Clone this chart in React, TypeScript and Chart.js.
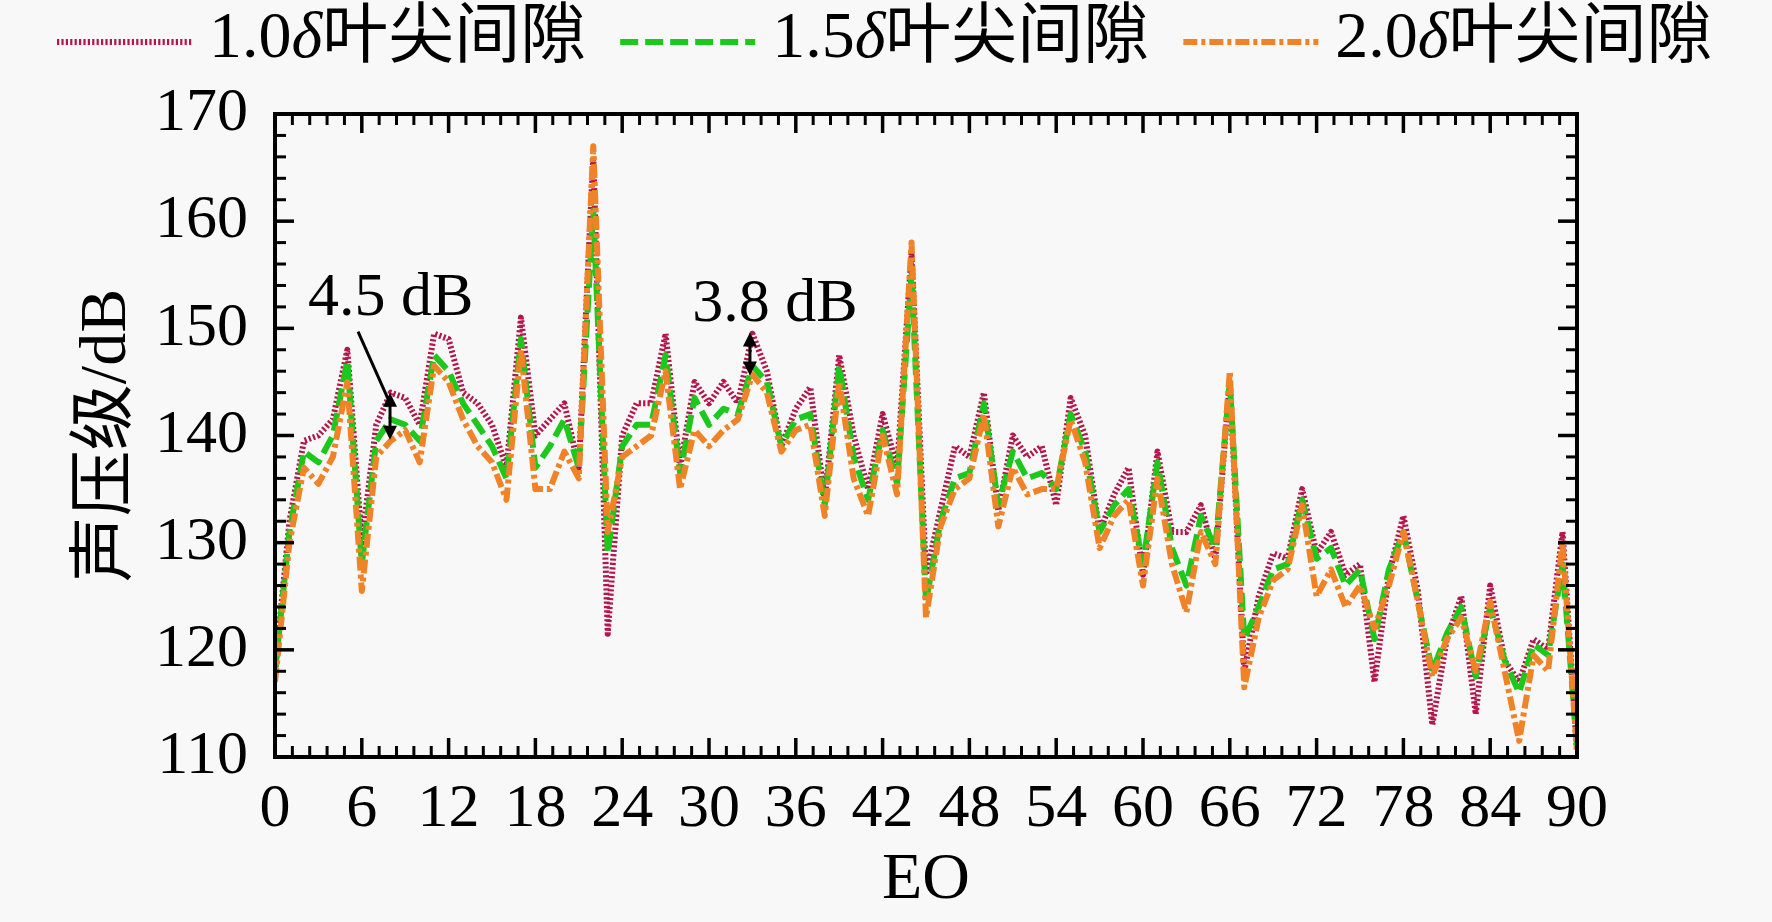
import { useEffect, useRef } from "react";
import { Chart, registerables } from "chart.js";

Chart.register(...registerables);

// ---------- data ----------
const EO = [
  0, 1, 2, 3, 4, 5, 6, 7, 8, 9, 10, 11, 12, 13, 14, 15, 16, 17, 18, 19, 20,
  21, 22, 23, 24, 25, 26, 27, 28, 29, 30, 31, 32, 33, 34, 35, 36, 37, 38, 39, 40,
  41, 42, 43, 44, 45, 46, 47, 48, 49, 50, 51, 52, 53, 54, 55, 56, 57, 58, 59, 60,
  61, 62, 63, 64, 65, 66, 67, 68, 69, 70, 71, 72, 73, 74, 75, 76, 77, 78, 79, 80,
  81, 82, 83, 84, 85, 86, 87, 88, 89, 90,
];

const SPL_10 = [
  118, 132, 139.5, 140, 141.5, 148, 130, 141, 144, 143.5, 141,
  149.5, 149, 144, 143, 141, 137, 151, 140, 141.5, 143, 137,
  166, 121.5, 140, 143, 143, 149.5, 137, 145, 143, 145, 143,
  149.5, 146, 139, 142.5, 144.5, 134, 147.5, 140, 135, 142, 137,
  157, 127, 133, 139, 138, 144, 133, 140, 138, 139, 133.5,
  143.5, 140, 131, 134.5, 137, 127, 138.5, 131, 131, 133.5, 128.5,
  145, 118, 125, 129, 128.5, 135, 129, 131, 127, 128, 117,
  127, 132.5, 125.5, 113, 121, 125, 114, 126, 119, 117, 121,
  120, 131, 110.5,
];

const SPL_15 = [
  118, 131, 138.5, 137.5, 140, 147, 128, 139.5, 141.5, 141, 139.5,
  147.5, 146, 143, 141, 139, 136, 149, 137, 139, 141.5, 137,
  161, 129, 139, 141, 141, 147.5, 136.5, 143.5, 141, 142.5, 142,
  146.5, 145, 139, 141.5, 142, 133.5, 146.5, 138, 134, 140.5, 135.5,
  155, 124.5, 132, 136, 136.5, 143, 133.5, 138.5, 136, 136.5, 135,
  142, 138.5, 131, 133.5, 135, 128, 137.5, 129.5, 126, 132.5, 129.5,
  145, 121, 124, 127.5, 128, 134, 128.5, 129.5, 126, 127.5, 121,
  127.5, 131, 124.5, 118, 121.5, 124, 117.5, 124, 119, 116, 120.5,
  119.5, 128, 111,
];

const SPL_20 = [
  117, 130, 137, 135.5, 138, 145, 125.5, 138, 139.5, 140.5, 137.5,
  146.5, 145, 141.5, 139, 137.5, 134, 148, 135, 135, 138.5, 136,
  167, 131, 138, 139, 140, 146, 135, 140.5, 139, 140.5, 141.5,
  145.7, 144, 138.5, 140.5, 141, 132.5, 145, 136, 132.5, 140, 134.5,
  158, 123, 131.5, 135, 136, 142, 131.5, 137, 134.5, 135, 135,
  141.5, 137.5, 129.5, 132.5, 134, 126, 136, 128, 123.5, 131, 128,
  146, 116.5, 123, 126.5, 127.5, 133.5, 125, 127.5, 124, 126, 122,
  126, 131, 124.5, 117.5, 121, 123, 118, 124.5, 118, 111.5, 119.5,
  118, 130, 110.5,
];

const SERIES_PREFIX = ["1.0", "1.5", "2.0"];
const SERIES_SYMBOL = "δ";
const SERIES_SUFFIX = "叶尖间隙";
const X_TITLE = "EO";
const Y_TITLE = "声压级/dB";

const X_MIN = 0;
const X_MAX = 90;
const X_STEP = 6;
const Y_MIN = 110;
const Y_MAX = 170;
const Y_STEP = 10;

// annotations: [EO, SPL]
const GAP_LABELS = ["4.5 dB", "3.8 dB"];
const GAP_LABEL_AT = [
  [8.0, 152.8],
  [34.55, 152.2],
];
// [EO, top SPL, bottom SPL]
const GAP_ARROWS = [
  [7.95, 144.0, 139.6],
  [32.83, 149.6, 145.6],
];
// [EO from, SPL from, EO to, SPL to]
const POINTER = [5.74, 149.7, 7.95, 143.0];

// ---------- styles ----------
const SERIF = '"Liberation Serif", "Times New Roman", "Noto Sans CJK SC", serif';
const COLORS = ["#B4154A", "#1CC81C", "#F08328"];
const DASHES = [
  [2.2, 2.2],
  [18, 7],
  [14, 4, 4, 4],
];

function line(ctx: CanvasRenderingContext2D, x1: number, y1: number, x2: number, y2: number) {
  ctx.beginPath();
  ctx.moveTo(x1, y1);
  ctx.lineTo(x2, y2);
  ctx.stroke();
}

function head(ctx: CanvasRenderingContext2D, x: number, y: number, dir: number) {
  const L = 14;
  const W = 7;
  ctx.beginPath();
  ctx.moveTo(x, y);
  ctx.lineTo(x - W, y - dir * L);
  ctx.lineTo(x + W, y - dir * L);
  ctx.closePath();
  ctx.fill();
}

const framePlugin = {
  id: "frame",
  afterDatasetsDraw(chart: any) {
    const { ctx, chartArea: a, scales } = chart;
    const xs = scales.x;
    const ys = scales.y;
    ctx.save();
    ctx.strokeStyle = "#000";
    ctx.fillStyle = "#000";
    ctx.setLineDash([]);

    const MAJ = 19;
    const MIN = 11;
    const xMinorStep = X_STEP / 5;
    const nx = Math.round((X_MAX - X_MIN) / xMinorStep);
    for (let i = 0; i <= nx; i++) {
      const v = X_MIN + i * xMinorStep;
      const isMaj = Math.abs(v / X_STEP - Math.round(v / X_STEP)) < 1e-6;
      const len = isMaj ? MAJ : MIN;
      ctx.lineWidth = isMaj ? 3.5 : 3;
      const px = xs.getPixelForValue(v);
      line(ctx, px, a.bottom, px, a.bottom - len);
      line(ctx, px, a.top, px, a.top + len);
    }
    const yMinorStep = Y_STEP / 5;
    const ny = Math.round((Y_MAX - Y_MIN) / yMinorStep);
    for (let i = 0; i <= ny; i++) {
      const v = Y_MIN + i * yMinorStep;
      const isMaj = Math.abs((v - Y_MIN) / Y_STEP - Math.round((v - Y_MIN) / Y_STEP)) < 1e-6;
      const len = isMaj ? MAJ : MIN;
      ctx.lineWidth = isMaj ? 3.5 : 3;
      const py = ys.getPixelForValue(v);
      line(ctx, a.left, py, a.left + len, py);
      line(ctx, a.right, py, a.right - len, py);
    }
    ctx.lineWidth = 4;
    ctx.strokeRect(a.left, a.top, a.right - a.left, a.bottom - a.top);

    ctx.font = `62px ${SERIF}`;
    ctx.textAlign = "center";
    ctx.textBaseline = "middle";
    GAP_LABELS.forEach((t, i) => {
      ctx.fillText(t, xs.getPixelForValue(GAP_LABEL_AT[i][0]), ys.getPixelForValue(GAP_LABEL_AT[i][1]));
    });
    ctx.lineWidth = 3;
    GAP_ARROWS.forEach(([e, top, bot]) => {
      const px = xs.getPixelForValue(e);
      const pt = ys.getPixelForValue(top);
      const pb = ys.getPixelForValue(bot);
      line(ctx, px, pt + 8, px, pb - 8);
      head(ctx, px, pt, -1);
      head(ctx, px, pb, 1);
    });
    line(
      ctx,
      xs.getPixelForValue(POINTER[0]),
      ys.getPixelForValue(POINTER[1]),
      xs.getPixelForValue(POINTER[2]),
      ys.getPixelForValue(POINTER[3])
    );
    ctx.restore();
  },
  afterDraw(chart: any) {
    const { ctx } = chart;
    ctx.save();
    const yc = 42;
    let xp = 57;
    chart.data.datasets.forEach((ds: any, i: number) => {
      ctx.save();
      ctx.strokeStyle = ds.borderColor;
      ctx.lineWidth = ds.borderWidth;
      ctx.setLineDash(ds.borderDash || []);
      line(ctx, xp, yc, xp + 135, yc);
      ctx.restore();
      xp += 135 + 17;
      ctx.fillStyle = "#000";
      ctx.textAlign = "left";
      ctx.textBaseline = "middle";
      ctx.font = `66px ${SERIF}`;
      ctx.fillText(SERIES_PREFIX[i], xp, 40);
      xp += ctx.measureText(SERIES_PREFIX[i]).width;
      ctx.font = `italic 66px ${SERIF}`;
      ctx.fillText(SERIES_SYMBOL, xp, 40);
      xp += ctx.measureText(SERIES_SYMBOL).width;
      ctx.font = `66px ${SERIF}`;
      ctx.fillText(SERIES_SUFFIX, xp, 40);
      xp += ctx.measureText(SERIES_SUFFIX).width;
      xp += 34;
    });
    ctx.restore();
  },
};

export default function App() {
  const ref = useRef<HTMLCanvasElement | null>(null);

  useEffect(() => {
    if (!ref.current) return;
    Chart.defaults.color = "#000";
    const series = [SPL_10, SPL_15, SPL_20];
    const chart = new Chart(ref.current, {
      type: "line",
      data: {
        datasets: series.map((vals, i) => ({
          label: `${SERIES_PREFIX[i]}${SERIES_SYMBOL}${SERIES_SUFFIX}`,
          data: EO.map((e, j) => ({ x: e, y: vals[j] })),
          borderColor: COLORS[i],
          backgroundColor: COLORS[i],
          borderWidth: 6,
          borderDash: DASHES[i],
          borderJoinStyle: "round",
          borderCapStyle: "butt",
          pointRadius: 0,
          tension: 0,
          fill: false,
          order: 3 - i,
        })),
      },
      options: {
        animation: false,
        responsive: false,
        devicePixelRatio: 1,
        layout: { padding: { top: 114, right: 195, bottom: 0, left: 0 } },
        plugins: {
          legend: { display: false },
          tooltip: { enabled: false },
        },
        scales: {
          x: {
            type: "linear",
            min: X_MIN,
            max: X_MAX,
            grid: { display: false, drawTicks: false },
            border: { display: false },
            ticks: {
              stepSize: X_STEP,
              autoSkip: false,
              maxRotation: 0,
              padding: 16,
              color: "#000",
              font: { family: SERIF, size: 62 },
            },
            title: {
              display: true,
              text: X_TITLE,
              color: "#000",
              font: { family: SERIF, size: 66 },
              padding: { top: 0, bottom: 2 },
            },
            afterFit(scale: any) {
              scale.height = 165;
            },
          },
          y: {
            type: "linear",
            min: Y_MIN,
            max: Y_MAX,
            grid: { display: false, drawTicks: false },
            border: { display: false },
            ticks: {
              stepSize: Y_STEP,
              padding: 27,
              color: "#000",
              font: { family: SERIF, size: 62 },
            },
            title: {
              display: true,
              text: Y_TITLE,
              color: "#000",
              font: { family: SERIF, size: 66 },
              padding: { top: 68, bottom: 0 },
            },
            afterFit(scale: any) {
              scale.width = 275;
            },
          },
        },
      },
      plugins: [framePlugin],
    } as any);
    return () => chart.destroy();
  }, []);

  return (
    <div style={{ width: 1772, height: 922, background: "#f8f8f8" }}>
      <style>{`body{margin:0;background:#f8f8f8;}`}</style>
      <canvas ref={ref} width={1772} height={922} style={{ display: "block" }} />
    </div>
  );
}
